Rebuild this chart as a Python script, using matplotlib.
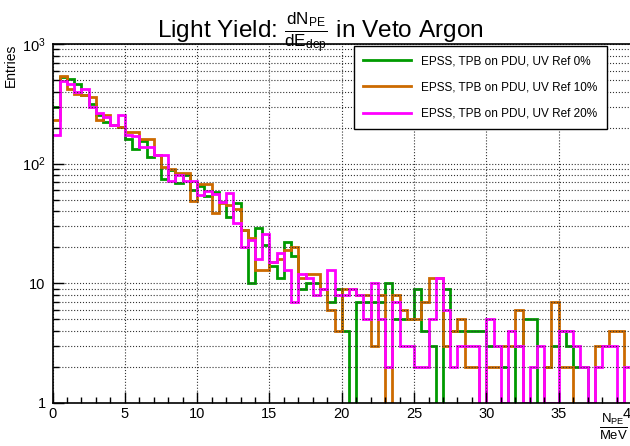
import numpy as np
import matplotlib
matplotlib.use("Agg")
import matplotlib.pyplot as plt

plt.rcParams['font.family'] = ['Liberation Sans', 'DejaVu Sans']
plt.rcParams['mathtext.fontset'] = 'custom'
plt.rcParams['mathtext.rm'] = 'Liberation Sans'
plt.rcParams['mathtext.it'] = 'Liberation Sans:italic'
plt.rcParams['mathtext.default'] = 'regular'

# bin edges: 0..40 in steps of 0.5 (N_PE / MeV)
edges = np.arange(0, 40.5, 0.5)

uvref0 = [299, 525, 508, 460, 372, 318, 255, 224, 210, 204,
          160, 132, 155, 113, 118, 75, 89, 69, 80, 60,
          65, 54, 58, 48, 36, 47, 28, 10, 29, 21,
          14, 11, 22, 17, 9, 10, 10, 9, 7, 9,
          4, 0, 7, 7, 7, 7, 10, 5, 5, 5,
          9, 4, 3, 0, 9, 4, 4, 4, 4, 4,
          3, 3, 2, 0, 3, 5, 5, 0, 2, 3,
          4, 3, 2, 2, 0, 0, 0, 0, 0, 0]

uvref10 = [230, 540, 418, 380, 376, 362, 231, 255, 210, 204,
           185, 185, 160, 160, 118, 94, 91, 83, 83, 49,
           68, 68, 39, 47, 45, 42, 28, 24, 13, 13,
           15, 16, 19, 20, 11, 12, 12, 9, 6, 4,
           9, 9, 8, 8, 3, 8, 0, 8, 6, 5,
           5, 7, 11, 11, 3, 4, 5, 2, 2, 0,
           2, 2, 3, 3, 6, 1, 0, 0, 2, 7,
           2, 2, 0, 0, 0, 3, 3, 4, 4, 0]

uvref20 = [174, 490, 463, 394, 417, 300, 263, 245, 210, 255,
           173, 170, 137, 137, 118, 118, 71, 80, 72, 72,
           55, 59, 56, 48, 57, 32, 20, 23, 16, 26,
           15, 18, 13, 7, 12, 11, 8, 9, 13, 8,
           8, 9, 8, 5, 10, 5, 2, 7, 3, 3,
           2, 2, 5, 11, 6, 2, 3, 3, 3, 0,
           5, 3, 1, 4, 3, 1, 2, 3, 1, 1,
           4, 4, 3, 2, 1, 2, 3, 3, 1, 2]

labels = ['EPSS, TPB on PDU, UV Ref 0%',
          'EPSS, TPB on PDU, UV Ref 10%',
          'EPSS, TPB on PDU, UV Ref 20%']
colors = ['#009a00', '#cc6a00', '#ff00ff']

fig = plt.figure(figsize=(6.3, 4.46), dpi=100)
ax = fig.add_axes([52.5/630, 43/446, (631-52.5)/630, (403-44)/446])

for vals, lab, col in zip([uvref0, uvref10, uvref20], labels, colors):
    v = np.clip(np.array(vals, dtype=float), 0.5, None)
    ax.stairs(v, edges, baseline=None, color=col, lw=2.0, label=lab)

ax.set_yscale('log')
ax.set_xlim(0, 40)
ax.set_ylim(1, 1000)

ax.set_xticks(np.arange(0, 41, 5))
ax.set_xticks(np.arange(0, 41, 1), minor=True)
ax.set_yticks([1, 10, 100, 1000])
ax.set_yticklabels(['1', '10', '$10^{2}$', '$10^{3}$'])
ax.tick_params(which='both', direction='in', labelsize=10.5)
ax.tick_params(which='major', length=8, width=1)
ax.tick_params(which='minor', length=4.5, width=1)
ax.tick_params(axis='x', pad=3)
ax.tick_params(axis='y', pad=5)
ax.grid(True, which='major', axis='x', ls=':', color='0.2', lw=0.8)
ax.grid(True, which='both', axis='y', ls=':', color='0.2', lw=0.8)
for s in ax.spines.values():
    s.set_linewidth(1.2)

ax.set_ylabel('Entries', loc='top', fontsize=10, labelpad=3)

fig.text(0.509, 1 - 33/446, r'Light Yield: $\frac{dN_{PE}}{dE_{dep}}$ in Veto Argon',
         ha='center', va='center', fontsize=17.6)
fig.text(628/630, 1 - 427/446, r'$\frac{N_{PE}}{MeV}$', ha='right', va='center',
         fontsize=13.5)

leg = ax.legend(loc='upper left',
                bbox_to_anchor=(354/630, 1 - 127/446, (607-354)/630, (127-46)/446),
                bbox_transform=fig.transFigure, mode='expand', fontsize=8.5,
                frameon=True, fancybox=False, edgecolor='black', framealpha=1,
                handlelength=4.0, handletextpad=0.9, labelspacing=1.2,
                borderaxespad=0, borderpad=0.8)
leg.get_frame().set_linewidth(1.0)

fig.savefig('out.png', dpi=100)
